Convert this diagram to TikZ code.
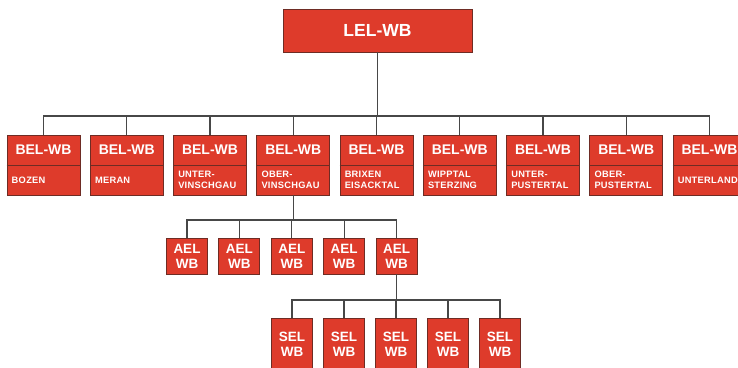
\documentclass[tikz,border=0pt]{standalone}
\usepackage{fontspec}
\setmainfont{Liberation Sans}
\definecolor{boxred}{HTML}{DE3B2B}
\definecolor{boxborder}{HTML}{6E2C24}
\definecolor{linegray}{HTML}{474747}
\begin{document}
\begin{tikzpicture}[x=1pt,y=-1pt,
  redbox/.style={draw=boxborder, fill=boxred, line width=0.9pt, inner sep=0pt},
  conn/.style={draw=linegray, line width=1.2pt},
  bigtxt/.style={text=white, font=\bfseries\fontsize{17.5}{18}\selectfont, inner sep=0pt},
  beltxt/.style={text=white, font=\bfseries\fontsize{14}{15}\selectfont, inner sep=0pt},
  subtxt/.style={text=white, font=\bfseries\fontsize{9.3}{11.5}\selectfont\addfontfeature{LetterSpace=3}, inner sep=0pt, align=left, anchor=west},
  smalltxt/.style={text=white, font=\bfseries\fontsize{13.5}{15}\selectfont, inner sep=0pt, align=center}
]
\useasboundingbox (0,0) rectangle (738,367);
\clip (0,0) rectangle (738,367);
\fill[white] (0,0) rectangle (738,367);

\coordinate (bus1) at (377.5,116);
\coordinate (bus2) at (294,220);
\coordinate (bus3) at (396.5,300);

\node[redbox, minimum width=189, minimum height=43] (lel) at (377.5,30.5) {};

\foreach \i in {1,...,9}{
  \pgfmathsetmacro{\cx}{43.5+83.25*(\i-1)}
  \node[redbox, minimum width=73, minimum height=60] (bel\i) at (\cx,165) {};
}
\foreach \i in {1,...,5}{
  \pgfmathsetmacro{\cx}{187+52.4*(\i-1)}
  \node[redbox, minimum width=41, minimum height=36] (ael\i) at (\cx,256) {};
}
\foreach \i in {1,...,5}{
  \pgfmathsetmacro{\cx}{292+52*(\i-1)}
  \node[redbox, minimum width=41, minimum height=53] (sel\i) at (\cx,344.5) {};
}

\foreach \i in {1,...,9}{
  \draw[conn] (lel.south) -- (lel.south |- bus1) -| (bel\i.north);
}
\foreach \i in {1,...,5}{
  \draw[conn] (bel4.south) -- (bel4.south |- bus2) -| (ael\i.north);
  \draw[conn] (ael5.south) -- (ael5.south |- bus3) -| (sel\i.north);
}

\node[bigtxt] (lelt) at (lel.center) {LEL-WB};
\foreach \i/\sub in {1/BOZEN, 2/MERAN, 3/{UNTER-\\VINSCHGAU}, 4/{OBER-\\VINSCHGAU}, 5/{BRIXEN\\EISACKTAL}, 6/{WIPPTAL\\STERZING}, 7/{UNTER-\\PUSTERTAL}, 8/{OBER-\\PUSTERTAL}, 9/UNTERLAND}{
  \draw[boxborder, line width=0.9pt] (bel\i.west) -- (bel\i.east);
  \node[beltxt] (belt\i) at ([yshift=15]bel\i.center) {BEL-WB};
  \node[subtxt] (bels\i) at ([xshift=5,yshift=-15]bel\i.center -| bel\i.west) {\sub};
}
\foreach \i in {1,...,5}{
  \node[smalltxt] (aelt\i) at (ael\i.center) {AEL\\WB};
  \node[smalltxt] (selt\i) at (sel\i.center) {SEL\\WB};
}
\end{tikzpicture}
\end{document}
